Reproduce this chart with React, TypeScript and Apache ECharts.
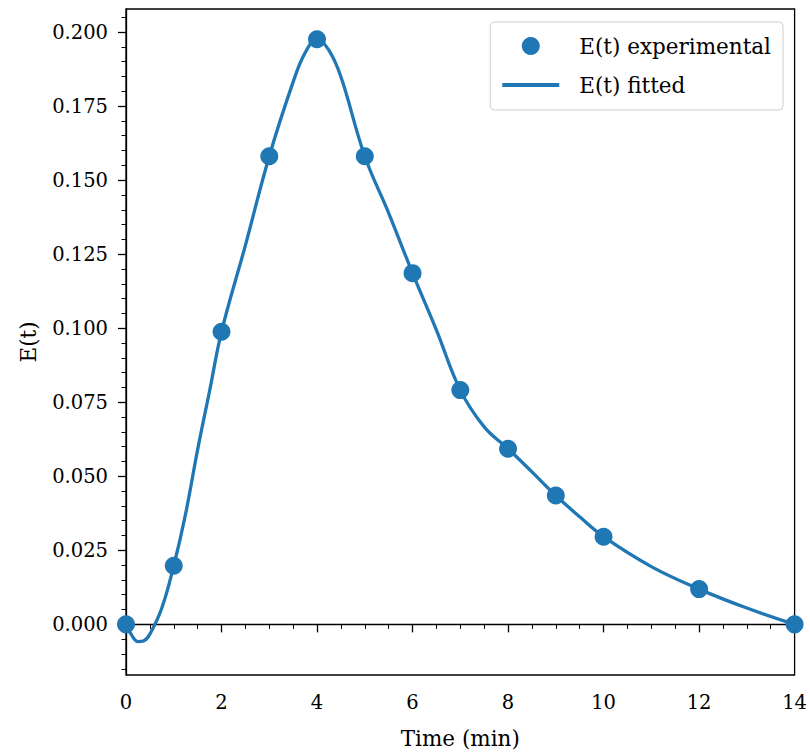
import React, { useEffect, useRef } from "react";
import * as echarts from "echarts";

const tExp = [0, 1, 2, 3, 4, 5, 6, 7, 8, 9, 10, 12, 14];
const eExp = [0, 0.0198, 0.0988, 0.1581, 0.1976, 0.1581, 0.1186, 0.0791, 0.0593, 0.0435, 0.0296, 0.0119, 0];

const tFit = [0, 0.125, 0.25, 0.375, 0.5, 0.75, 1, 1.25, 1.5, 1.75, 2, 2.5, 3, 3.5, 3.75, 4, 4.25, 4.5, 5, 5.5, 6, 6.5, 7, 7.5, 8, 8.5, 9, 9.5, 10, 11, 12, 13, 14];
const eFit = [0, -0.0038, -0.0058, -0.0055, -0.0033, 0.0055, 0.0198, 0.0375, 0.059, 0.0788, 0.0988, 0.128, 0.1581, 0.1832, 0.193, 0.1976, 0.1938, 0.1849, 0.1581, 0.1389, 0.1186, 0.0994, 0.0791, 0.0667, 0.0593, 0.0515, 0.0435, 0.0363, 0.0296, 0.0195, 0.0119, 0.0055, 0];

const yMajorTicks = [0, 0.025, 0.05, 0.075, 0.1, 0.125, 0.15, 0.175, 0.2];
const yMinorTicks = [-0.015, -0.01, -0.005, 0.005, 0.01, 0.015, 0.02, 0.03, 0.035, 0.04, 0.045, 0.055, 0.06, 0.065, 0.07, 0.08, 0.085, 0.09, 0.095, 0.105, 0.11, 0.115, 0.12, 0.13, 0.135, 0.14, 0.145, 0.155, 0.16, 0.165, 0.17, 0.18, 0.185, 0.19, 0.195, 0.205];

const COLOR = "#1f77b4";
const FONT = "DejaVu Serif";

export default function App() {
  const ref = useRef<HTMLDivElement>(null);
  useEffect(() => {
    if (!ref.current) return;
    const chart = echarts.init(ref.current, undefined, { renderer: "svg" });
    const yMin = -0.0171;
    const yMax = 0.2078;
    chart.setOption({
      animation: false,
      backgroundColor: "#fff",
      textStyle: { fontFamily: FONT, color: "#000" },
      grid: {
        left: 126,
        right: 14,
        top: 9,
        bottom: 81,
        show: true,
        borderColor: "#000",
        borderWidth: 1.3,
        backgroundColor: "transparent",
      },
      legend: {
        orient: "vertical",
        right: 27,
        top: 22,
        padding: [13, 12, 14, 10],
        itemGap: 17,
        itemWidth: 57,
        itemHeight: 18,
        borderColor: "#cfcfcf",
        borderWidth: 1,
        borderRadius: 4,
        backgroundColor: "rgba(255,255,255,0.8)",
        align: "left",
        textStyle: { fontFamily: FONT, fontSize: 21.5, color: "#000", padding: [0, 0, 0, 15] },
        data: [
          { name: "E(t) experimental", icon: "circle" },
          { name: "E(t) fitted", itemStyle: { opacity: 0 }, lineStyle: { width: 4, color: COLOR } },
        ],
      },
      xAxis: {
        type: "value",
        min: 0,
        max: 14,
        interval: 2,
        name: "Time (min)",
        nameLocation: "middle",
        nameGap: 52,
        nameTextStyle: { fontFamily: FONT, fontSize: 21.5, color: "#000" },
        axisLine: { show: true, lineStyle: { color: "#000", width: 1.3 } },
        axisTick: { show: true, length: 8, lineStyle: { color: "#000", width: 1.3 } },
        minorTick: { show: true, splitNumber: 4, length: 4.5, lineStyle: { color: "#000", width: 1 } },
        axisLabel: { fontFamily: FONT, fontSize: 19.5, color: "#000", margin: 17 },
        splitLine: { show: false },
      },
      yAxis: [
        {
          type: "value",
          min: yMin,
          max: yMax,
          name: "E(t)",
          nameLocation: "middle",
          nameGap: 87,
          nameTextStyle: { fontFamily: FONT, fontSize: 21.5, color: "#000" },
          axisLine: { show: true, lineStyle: { color: "#000", width: 1.3 } },
          axisTick: { show: true, length: 8, customValues: yMajorTicks, lineStyle: { color: "#000", width: 1.3 } },
          axisLabel: {
            fontFamily: FONT,
            fontSize: 19.5,
            color: "#000",
            margin: 18,
            customValues: yMajorTicks,
            formatter: (v: number) => v.toFixed(3),
          },
          splitLine: { show: false },
        },
        {
          type: "value",
          min: yMin,
          max: yMax,
          position: "left",
          axisLine: { show: false },
          axisTick: { show: true, length: 4.5, customValues: yMinorTicks, lineStyle: { color: "#000", width: 1 } },
          axisLabel: { show: false },
          splitLine: { show: false },
        },
      ],
      series: [
        {
          name: "E(t) fitted",
          type: "line",
          yAxisIndex: 0,
          data: tFit.map((t, i) => [t, eFit[i]]),
          smooth: 0.4,
          showSymbol: false,
          symbol: "none",
          lineStyle: { color: COLOR, width: 3.3 },
          itemStyle: { color: COLOR },
          z: 2,
        },
        {
          name: "E(t) experimental",
          type: "scatter",
          yAxisIndex: 0,
          data: tExp.map((t, i) => [t, eExp[i]]),
          symbol: "circle",
          symbolSize: 18,
          itemStyle: { color: COLOR, opacity: 1 },
          z: 3,
        },
      ],
    });
    return () => chart.dispose();
  }, []);
  return (
    <div
      ref={ref}
      style={{ position: "fixed", left: 0, top: 0, width: 810, height: 756 }}
    />
  );
}
